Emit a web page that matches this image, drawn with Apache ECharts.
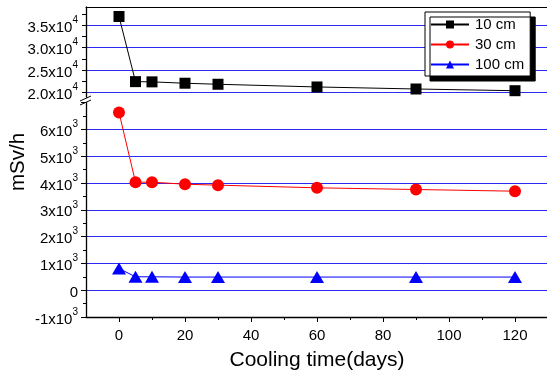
<!DOCTYPE html>
<html>
<head>
<meta charset="utf-8">
<script src="https://cdn.jsdelivr.net/npm/echarts@6/dist/echarts.min.js"></script>
<style>html,body{margin:0;padding:0;background:#fff}#c{width:547px;height:371px}</style>
</head>
<body>
<div id="c"></div>
<script>
// ---- data ----
const days = [0, 5, 10, 20, 30, 60, 90, 120];
const dose10cm = [36900, 22450, 22400, 22100, 21870, 21270, 20820, 20440];
const dose30cm = [6630, 4030, 4030, 3955, 3920, 3820, 3757, 3694];
const dose100cm = [810, 500, 500, 490, 490, 490, 490, 490];
const seriesNames = ['10 cm', '30 cm', '100 cm'];
const xTickLabels = [0, 20, 40, 60, 80, 100, 120];
const xMinorTicks = [10, 30, 50, 70, 90, 110, 130];
const yTopTickLabels = [20000, 25000, 30000, 35000];
const yTopTicks = [20000, 22500, 25000, 27500, 30000, 32500, 35000, 37500];
const xTitle = 'Cooling time(days)';
const yTitle = 'mSv/h';

const FONT = '"Liberation Sans", Arial, sans-serif';
const GRIDBLUE = '#2a2af2';
const NONE = 'rgba(0,0,0,0)';

function pairs(xs, ys) { return xs.map((x, i) => [x, ys[i]]); }

function sciLabel(v) {
  if (v === 0) return '{a|0}';
  const exp = Math.floor(Math.log10(Math.abs(v)) + 1e-9);
  let m = v / Math.pow(10, exp);
  let ms = (exp === 4) ? m.toFixed(1) : String(Math.round(m));
  return '{a|' + ms + 'x10}{s|' + exp + '}';
}
const rich = {
  a: { fontSize: 15, fontFamily: FONT, color: '#000', lineHeight: 20, verticalAlign: 'bottom' },
  s: { fontSize: 10, fontFamily: FONT, color: '#000', lineHeight: 20, verticalAlign: 'top', padding: [0, 0, 8, 0] }
};

const chart = echarts.init(document.getElementById('c'), null, { renderer: 'canvas' });

const option = {
  animation: false,
  backgroundColor: '#fff',
  grid: [
    { left: 86, top: 7, width: 462, height: 90.2, containLabel: false, outerBoundsMode: 'none' },
    { left: 86, top: 102.6, width: 462, height: 214.4, containLabel: false, outerBoundsMode: 'none' }
  ],
  xAxis: [
    { gridIndex: 0, type: 'value', min: -10, max: 130, position: 'top',
      axisLine: { show: true, onZero: false, lineStyle: { color: '#000', width: 1 } },
      axisTick: { show: false }, axisLabel: { show: false }, splitLine: { show: false } },
    { gridIndex: 1, type: 'value', min: -10, max: 130, position: 'bottom',
      axisLine: { show: true, onZero: false, lineStyle: { color: '#000', width: 1.3 } },
      axisTick: { show: true, length: 5, inside: false, customValues: xTickLabels, lineStyle: { color: '#000' } },
      axisLabel: { show: true, customValues: xTickLabels, margin: 11, fontSize: 15, fontFamily: FONT, color: '#000' },
      splitLine: { show: false },
      name: xTitle, nameLocation: 'middle', nameGap: 33,
      nameTextStyle: { fontSize: 21, fontFamily: FONT, color: '#000' } },
    { gridIndex: 1, type: 'value', min: -10, max: 130, position: 'bottom',
      axisLine: { show: false, onZero: false },
      axisTick: { show: true, length: 3, inside: false, customValues: xMinorTicks, lineStyle: { color: '#000' } },
      axisLabel: { show: false }, splitLine: { show: false } }
  ],
  yAxis: [
    { gridIndex: 0, type: 'value', min: 19000, max: 39000, interval: 1000,
      axisLine: { show: true, onZero: false, lineStyle: { color: '#000', width: 1.3 } },
      axisTick: { show: true, length: 4, customValues: yTopTicks, lineStyle: { color: '#000' } },
      axisLabel: { show: true, customValues: yTopTickLabels, margin: 8, formatter: sciLabel, rich: rich },
      splitLine: { show: true, lineStyle: { color: [GRIDBLUE, NONE], width: 1 } } },
    { gridIndex: 1, type: 'value', min: -1000, max: 7000, interval: 1000,
      axisLine: { show: true, onZero: false, lineStyle: { color: '#000', width: 1.3 } },
      axisTick: { show: true, length: 5, lineStyle: { color: '#000' } },
      minorTick: { show: true, splitNumber: 2, length: 3, lineStyle: { color: '#000' } },
      axisLabel: { show: true, margin: 8, showMaxLabel: false,
        formatter: v => (v >= 7000 ? '' : sciLabel(v)), rich: rich },
      splitLine: { show: true, showMinLine: false, showMaxLine: false, lineStyle: { color: GRIDBLUE, width: 1 } } }
  ],
  legend: {
    left: 425, top: 12, orient: 'vertical',
    padding: [5, 6, 4, 5],
    itemWidth: 38, itemHeight: 10, itemGap: 5,
    backgroundColor: '#fff', borderColor: '#000', borderWidth: 1,
    shadowColor: '#000', shadowBlur: 0, shadowOffsetX: 5, shadowOffsetY: 5,
    textStyle: { fontSize: 15, fontFamily: FONT, color: '#000', padding: [0, 0, 0, 1] },
    data: seriesNames
  },
  graphic: [
    { type: 'text', rotation: Math.PI / 2, x: 18, y: 162,
      style: { text: yTitle, fontSize: 20.5, fontFamily: FONT, fill: '#000', textAlign: 'center', textVerticalAlign: 'middle' } },
    { type: 'line', shape: { x1: 80, y1: 101, x2: 91, y2: 96 }, style: { stroke: '#000', lineWidth: 1 } },
    { type: 'line', shape: { x1: 80, y1: 105, x2: 91, y2: 100 }, style: { stroke: '#000', lineWidth: 1 } }
  ],
  series: [
    { name: seriesNames[0], type: 'line', xAxisIndex: 0, yAxisIndex: 0, data: pairs(days, dose10cm),
      symbol: 'rect', symbolSize: 11, lineStyle: { color: '#000', width: 1 },
      itemStyle: { color: '#000' }, clip: false },
    { name: seriesNames[1], type: 'line', xAxisIndex: 1, yAxisIndex: 1, data: pairs(days, dose30cm),
      symbol: 'circle', symbolSize: 12, lineStyle: { color: '#f00', width: 1 },
      itemStyle: { color: '#f00' }, clip: false },
    { name: seriesNames[2], type: 'line', xAxisIndex: 1, yAxisIndex: 1, data: pairs(days, dose100cm),
      symbol: 'triangle', symbolSize: [14, 12], lineStyle: { color: '#00f', width: 1 },
      itemStyle: { color: '#00f' }, clip: false }
  ]
};
chart.setOption(option);
</script>
</body>
</html>
